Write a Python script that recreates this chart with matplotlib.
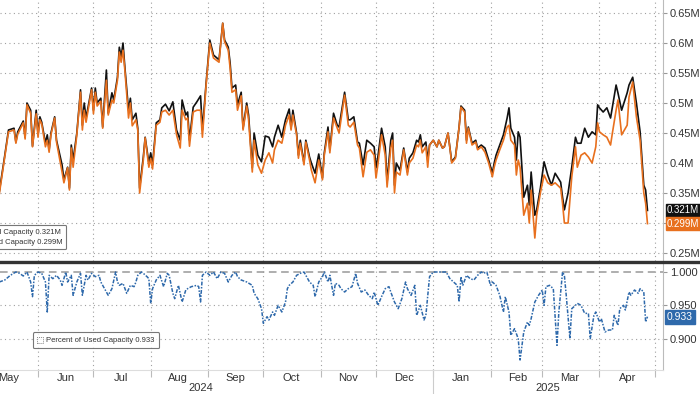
import matplotlib
matplotlib.use("Agg")
import matplotlib.pyplot as plt
import matplotlib.dates as mdates
import matplotlib.transforms as mtransforms
from matplotlib.lines import Line2D
from matplotlib.patches import Rectangle
import pandas as pd

plt.rcParams['font.family'] = ['Liberation Sans', 'DejaVu Sans']

# day numbers are counted from 1 Jun 2024
DAY0 = pd.Timestamp('2024-06-01')

# capacity, million
cap_days = [-21, -18, -16, -13, -12, -11, -8, -7, -6, -4, -3, -1, 0, 1, 2, 4, 5, 6, 7, 9, 10,
            13, 14, 16, 17, 18, 19, 21, 23, 24, 25, 26, 29, 30, 31, 32, 34, 35, 37, 38, 40, 41,
            43, 44, 45, 46, 47, 49, 50, 51, 53, 54, 55, 57, 58, 60, 61, 62, 64, 66, 67, 69, 71,
            73, 75, 77, 78, 80, 81, 82, 84, 86, 88, 89, 91, 93, 95, 98, 100, 101, 103, 104, 105,
            107, 108, 110, 111, 113, 114, 116, 117, 119, 121, 123, 125, 127, 128, 130, 132, 133,
            134, 136, 137, 138, 140, 141, 142, 144, 145, 147, 148, 150, 152, 154, 155, 157, 158,
            160, 162, 163, 166, 168, 169, 171, 173, 174, 176, 178, 180, 182, 183, 184, 186, 188,
            189, 191, 192, 193, 194, 196, 198, 200, 201, 203, 205, 206, 207, 208, 210, 211, 212,
            214, 216, 217, 219, 220, 222, 224, 226, 228, 229, 231, 232, 233, 235, 237, 238, 240,
            242, 244, 246, 247, 248, 250, 252, 254, 255, 256, 258, 259, 260, 261, 263, 265, 266,
            267, 269, 270, 272, 274, 276, 278, 280, 283, 284, 285, 287, 289, 291, 292, 294, 296,
            298, 300, 302, 303, 304, 306, 308, 310, 311, 313, 314, 316, 319, 320, 322, 324, 326,
            328, 329, 330]
total_cap = [0.352, 0.413, 0.455, 0.458, 0.435, 0.452, 0.470, 0.443, 0.500, 0.488, 0.428, 0.488,
             0.447, 0.477, 0.468, 0.433, 0.447, 0.422, 0.450, 0.477, 0.438, 0.397, 0.372, 0.393,
             0.358, 0.430, 0.405, 0.450, 0.522, 0.463, 0.500, 0.475, 0.525, 0.488, 0.525, 0.500,
             0.508, 0.460, 0.555, 0.483, 0.517, 0.505, 0.543, 0.593, 0.577, 0.600, 0.560, 0.488,
             0.508, 0.472, 0.483, 0.458, 0.358, 0.410, 0.443, 0.400, 0.417, 0.397, 0.467, 0.472,
             0.492, 0.498, 0.487, 0.502, 0.455, 0.438, 0.505, 0.480, 0.485, 0.438, 0.493, 0.502,
             0.512, 0.455, 0.533, 0.605, 0.580, 0.572, 0.633, 0.605, 0.593, 0.567, 0.525, 0.530,
             0.497, 0.518, 0.458, 0.500, 0.480, 0.392, 0.450, 0.413, 0.402, 0.445, 0.443, 0.427,
             0.443, 0.463, 0.443, 0.458, 0.472, 0.490, 0.458, 0.488, 0.450, 0.413, 0.438, 0.400,
             0.438, 0.410, 0.400, 0.383, 0.415, 0.375, 0.417, 0.460, 0.422, 0.483, 0.463, 0.460,
             0.518, 0.472, 0.472, 0.477, 0.435, 0.433, 0.397, 0.438, 0.433, 0.427, 0.392, 0.410,
             0.458, 0.427, 0.368, 0.438, 0.450, 0.363, 0.400, 0.388, 0.425, 0.385, 0.408, 0.417,
             0.438, 0.435, 0.447, 0.427, 0.435, 0.405, 0.430, 0.438, 0.427, 0.438, 0.425, 0.427,
             0.450, 0.402, 0.410, 0.460, 0.495, 0.488, 0.438, 0.460, 0.433, 0.438, 0.425, 0.430,
             0.425, 0.405, 0.383, 0.400, 0.413, 0.430, 0.447, 0.475, 0.492, 0.458, 0.443, 0.405,
             0.452, 0.443, 0.343, 0.363, 0.330, 0.385, 0.313, 0.322, 0.358, 0.402, 0.380, 0.363,
             0.383, 0.368, 0.343, 0.322, 0.350, 0.393, 0.443, 0.433, 0.433, 0.458, 0.443, 0.452,
             0.447, 0.497, 0.492, 0.485, 0.492, 0.475, 0.493, 0.530, 0.517, 0.488, 0.517, 0.530,
             0.543, 0.500, 0.452, 0.363, 0.355, 0.321]
used_cap = [0.348, 0.410, 0.452, 0.455, 0.433, 0.448, 0.467, 0.440, 0.497, 0.483, 0.427, 0.482,
            0.443, 0.472, 0.465, 0.427, 0.438, 0.418, 0.447, 0.475, 0.435, 0.385, 0.367, 0.392,
            0.355, 0.425, 0.393, 0.447, 0.518, 0.455, 0.488, 0.468, 0.522, 0.482, 0.518, 0.495,
            0.503, 0.458, 0.538, 0.480, 0.505, 0.500, 0.538, 0.585, 0.568, 0.588, 0.555, 0.475,
            0.500, 0.462, 0.472, 0.455, 0.350, 0.405, 0.442, 0.393, 0.408, 0.390, 0.463, 0.468,
            0.485, 0.488, 0.480, 0.488, 0.447, 0.425, 0.488, 0.472, 0.475, 0.428, 0.485, 0.488,
            0.488, 0.443, 0.530, 0.600, 0.575, 0.568, 0.633, 0.602, 0.588, 0.558, 0.518, 0.522,
            0.488, 0.512, 0.455, 0.495, 0.472, 0.385, 0.438, 0.397, 0.383, 0.405, 0.417, 0.400,
            0.422, 0.438, 0.433, 0.447, 0.463, 0.480, 0.455, 0.480, 0.447, 0.408, 0.433, 0.397,
            0.435, 0.405, 0.388, 0.367, 0.405, 0.372, 0.413, 0.452, 0.417, 0.475, 0.458, 0.450,
            0.513, 0.463, 0.460, 0.468, 0.430, 0.425, 0.377, 0.418, 0.422, 0.413, 0.375, 0.397,
            0.447, 0.413, 0.360, 0.425, 0.438, 0.350, 0.385, 0.380, 0.422, 0.380, 0.400, 0.408,
            0.430, 0.427, 0.438, 0.417, 0.427, 0.393, 0.430, 0.438, 0.427, 0.438, 0.425, 0.427,
            0.450, 0.400, 0.408, 0.460, 0.493, 0.485, 0.433, 0.458, 0.430, 0.435, 0.422, 0.427,
            0.418, 0.400, 0.377, 0.393, 0.405, 0.422, 0.438, 0.460, 0.463, 0.438, 0.430, 0.380,
            0.405, 0.393, 0.313, 0.333, 0.300, 0.355, 0.275, 0.313, 0.350, 0.380, 0.367, 0.363,
            0.367, 0.358, 0.333, 0.300, 0.300, 0.377, 0.427, 0.393, 0.413, 0.417, 0.410, 0.400,
            0.427, 0.467, 0.452, 0.447, 0.443, 0.430, 0.450, 0.488, 0.505, 0.447, 0.463, 0.510,
            0.535, 0.477, 0.438, 0.350, 0.333, 0.299]

# share of capacity in use
pct_days = [-21, -18, -15, -12, -10, -8, -6, -4, -3, -2, 0, 2, 4, 5, 6, 8, 10, 12, 13, 15, 16,
            18, 19, 21, 23, 24, 26, 27, 29, 31, 33, 34, 36, 38, 40, 42, 43, 44, 46, 48, 50, 52,
            53, 54, 56, 57, 59, 60, 61, 62, 64, 66, 68, 70, 71, 73, 74, 76, 78, 80, 81, 83, 86,
            87, 88, 89, 91, 93, 95, 97, 98, 99, 101, 103, 105, 107, 108, 110, 113, 116, 117, 119,
            121, 122, 124, 125, 127, 128, 130, 132, 134, 135, 136, 138, 140, 142, 144, 145, 147,
            149, 150, 152, 154, 155, 157, 158, 160, 161, 163, 164, 166, 168, 170, 172, 173, 175,
            177, 179, 181, 182, 184, 186, 188, 190, 191, 193, 195, 197, 199, 200, 202, 204, 205,
            207, 209, 210, 212, 214, 218, 221, 223, 225, 227, 228, 229, 230, 232, 234, 236, 238,
            240, 241, 243, 245, 246, 248, 250, 252, 253, 255, 256, 258, 260, 261, 263, 265, 266,
            267, 269, 271, 273, 274, 275, 277, 279, 281, 282, 284, 285, 286, 288, 289, 291, 292,
            294, 296, 298, 299, 301, 302, 304, 305, 307, 309, 311, 312, 314, 315, 317, 318, 320,
            321, 323, 325, 326, 328, 329, 330]
pct_used = [0.985, 0.988, 0.995, 1.0, 0.998, 0.994, 1.0, 0.985, 0.963, 0.995, 1.0, 0.998, 0.985,
            0.94, 0.995, 0.99, 0.995, 0.988, 0.98, 1.0, 0.985, 0.995, 0.965, 0.985, 0.998, 0.965,
            0.995, 0.988, 0.998, 0.993, 0.995, 0.985, 0.975, 0.965, 0.975, 1.0, 0.985, 0.98,
            0.983, 0.968, 0.98, 0.978, 0.985, 0.995, 1.0, 0.998, 0.993, 0.99, 0.953, 0.975, 0.988,
            0.995, 0.978, 0.998, 0.995, 0.968, 0.96, 0.98, 0.955, 0.973, 0.975, 0.978, 0.98,
            0.978, 0.955, 0.995, 1.0, 0.995, 1.0, 0.99, 0.995, 1.0, 0.998, 0.985, 0.995, 1.0,
            0.993, 0.988, 0.985, 0.98, 0.968, 0.96, 0.945, 0.923, 0.933, 0.928, 0.94, 0.935, 0.95,
            0.94, 0.955, 0.975, 0.98, 0.985, 0.995, 0.998, 1.0, 0.995, 0.985, 0.98, 0.963, 0.985,
            0.993, 1.0, 0.985, 0.995, 0.965, 0.983, 0.98, 0.975, 0.97, 0.975, 0.978, 0.998, 0.983,
            0.97, 0.973, 0.965, 0.96, 0.97, 0.95, 0.963, 0.975, 0.978, 0.97, 0.955, 0.945, 0.96,
            0.985, 0.975, 0.965, 0.98, 0.935, 0.95, 0.928, 0.935, 0.993, 1.0, 1.0, 1.0, 0.99,
            0.985, 0.98, 0.955, 0.993, 0.98, 0.995, 0.99, 0.988, 0.995, 1.0, 0.998, 1.0, 0.98,
            0.985, 0.98, 0.965, 0.94, 0.963, 0.94, 0.905, 0.915, 0.9, 0.868, 0.91, 0.925, 0.92,
            0.93, 0.955, 0.965, 0.973, 0.95, 0.978, 0.98, 0.975, 0.89, 0.94, 1.0, 0.995, 0.965,
            0.9, 0.945, 0.95, 0.953, 0.95, 0.938, 0.938, 0.9, 0.935, 0.94, 0.925, 0.93, 0.91,
            0.913, 0.913, 0.935, 0.92, 0.945, 0.95, 0.943, 0.97, 0.965, 0.973, 0.968, 0.975, 0.97,
            0.925, 0.933]

cap_ticks = [0.25, 0.30, 0.35, 0.40, 0.45, 0.50, 0.55, 0.60, 0.65]
cap_labels = ['0.25M', '', '0.35M', '0.4M', '0.45M', '0.5M', '0.55M', '0.6M', '0.65M']
pct_ticks = [0.90, 0.95, 1.00]
pct_labels = ['0.900', '0.950', '1.000']

BLACK = '#111111'
ORANGE = '#e8701e'
BLUE = '#2e69ab'
GRID = '#a0a0a0'
TXT = '#333333'

cap_dates = DAY0 + pd.to_timedelta(cap_days, unit='D')
pct_dates = DAY0 + pd.to_timedelta(pct_days, unit='D')
x0 = DAY0 - pd.Timedelta(days=20.6)
x1 = DAY0 + pd.Timedelta(days=338.4)

fig = plt.figure(figsize=(7, 3.94), dpi=100)
ax = fig.add_axes([0.0, 1 - 261 / 394, 663 / 700, 261 / 394])
ax2 = fig.add_axes([0.0, 1 - 370 / 394, 663 / 700, 107 / 394])

# top panel
ax.plot(cap_dates, total_cap, color=BLACK, lw=1.2, label='Total Capacity 0.321M', zorder=3)
ax.plot(cap_dates, used_cap, color=ORANGE, lw=1.2, label='Used Capacity 0.299M', zorder=4)
ax.set_ylim(0.2367, 0.6717)
ax.set_yticks(cap_ticks)
ax.set_yticklabels(cap_labels)

# bottom panel
ax2.axhline(1.0, color='#999999', lw=1.1, ls=(0, (5, 3)), zorder=2)
ax2.plot(pct_dates, pct_used, color=BLUE, lw=1.1, ls=(0, (2.5, 1, 1, 1)), zorder=3)
ax2.set_ylim(0.853, 1.0135)
ax2.set_yticks(pct_ticks)
ax2.set_yticklabels(pct_labels)

for a in (ax, ax2):
    a.set_xlim(x0, x1)
    a.xaxis.set_major_locator(mdates.MonthLocator())
    a.xaxis.set_minor_locator(mdates.MonthLocator(bymonthday=16))
    a.yaxis.tick_right()
    a.grid(True, which='major', color=GRID, ls=(0, (1, 3)), lw=0.8)
    a.tick_params(axis='y', which='major', length=3, color='#999999', labelsize=8,
                  labelcolor=TXT, pad=2)
    for s in ('top', 'left', 'bottom'):
        a.spines[s].set_visible(False)
    a.spines['right'].set_color('#bbbbbb')
    a.spines['right'].set_linewidth(0.8)
    a.set_facecolor('white')

ax2.grid(False, axis='y')
for yv in (0.90, 0.95):
    ax2.axhline(yv, color=GRID, ls=(0, (1, 3)), lw=0.8, zorder=1)

ax.tick_params(axis='x', which='both', length=0, labelbottom=False)
ax2.xaxis.set_major_formatter(plt.NullFormatter())
ax2.xaxis.set_minor_formatter(mdates.DateFormatter('%b'))
ax2.tick_params(axis='x', which='major', length=5, color='#bbbbbb')
ax2.tick_params(axis='x', which='minor', length=0, labelsize=8, labelcolor=TXT, pad=2)
ax2.spines['bottom'].set_visible(True)
ax2.spines['bottom'].set_color('#dddddd')

# year labels and year break
trans2 = mtransforms.blended_transform_factory(ax2.transData, ax2.transAxes)
ax2.text(pd.Timestamp('2024-08-28'), -0.17, '2024', transform=trans2, ha='center',
         va='center', fontsize=8, color=TXT)
ax2.text(pd.Timestamp('2025-03-04'), -0.17, '2025', transform=trans2, ha='center',
         va='center', fontsize=8, color=TXT)
ax2.add_line(Line2D([pd.Timestamp('2025-01-01')] * 2, [0, -0.25], transform=trans2,
                    color='#cccccc', lw=0.8, clip_on=False))

# separator between panels
fig.add_artist(Line2D([0, 1], [1 - 261.8 / 394] * 2, transform=fig.transFigure,
                      color='#333333', lw=2.4))

# last value tags
trans = mtransforms.blended_transform_factory(ax.transAxes, ax.transData)
for val, txt, col in ((total_cap[-1], '0.321M', BLACK), (used_cap[-1], '0.299M', ORANGE)):
    ax.text(1.006, val, txt, transform=trans, ha='left', va='center', fontsize=7,
            color='white', clip_on=False, zorder=10,
            bbox=dict(boxstyle='square,pad=0.12', fc=col, ec=col))
trans_b = mtransforms.blended_transform_factory(ax2.transAxes, ax2.transData)
ax2.text(1.006, pct_used[-1], '0.933', transform=trans_b, ha='left', va='center', fontsize=7.5,
         color='white', clip_on=False, zorder=10,
         bbox=dict(boxstyle='square,pad=0.2', fc=BLUE, ec=BLUE))

# legends
leg = ax.legend(loc='lower right', bbox_to_anchor=(69 / 700, 1 - 252.5 / 394),
                bbox_transform=fig.transFigure, fontsize=5.5, frameon=True, handlelength=1.2,
                handletextpad=0.4, borderpad=0.4, labelspacing=0.3)
leg.get_frame().set_edgecolor('#555555')
leg.get_frame().set_linewidth(0.8)
leg.get_frame().set_boxstyle('round,pad=0.1,rounding_size=0.15')

sq = Rectangle((0, 0), 1, 1, fc='none', ec='#888888', ls=(0, (1, 1)), lw=0.7)
leg2 = ax2.legend([sq], ['Percent of Used Capacity 0.933'], loc='lower left',
                  bbox_to_anchor=(30 / 700, 1 - 351.5 / 394), bbox_transform=fig.transFigure,
                  fontsize=5.5, frameon=True, handlelength=0.8, handleheight=0.8,
                  handletextpad=0.4, borderpad=0.45)
leg2.get_frame().set_edgecolor('#555555')
leg2.get_frame().set_linewidth(0.8)
leg2.get_frame().set_boxstyle('round,pad=0.1,rounding_size=0.15')
for t in leg.get_texts() + leg2.get_texts():
    t.set_color(TXT)

fig.savefig('out.png', dpi=100)
